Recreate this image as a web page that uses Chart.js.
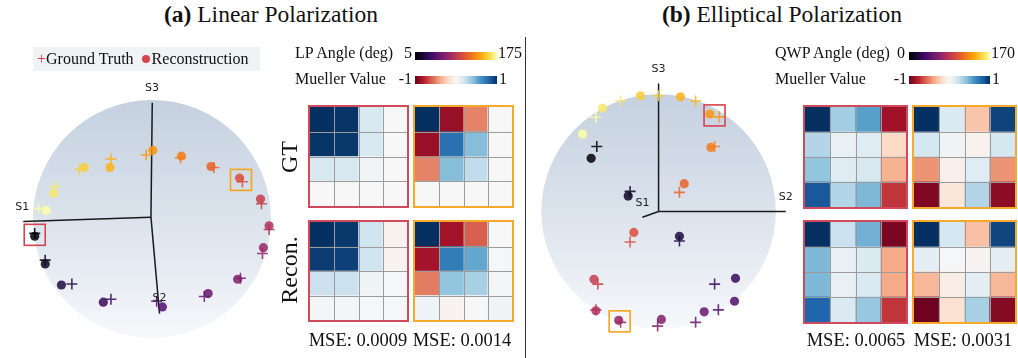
<!DOCTYPE html>
<html><head><meta charset="utf-8">
<script src="https://cdn.jsdelivr.net/npm/chart.js@4.4.1/dist/chart.umd.min.js"></script>
<style>
html,body{margin:0;padding:0;background:#fff;}
#root{position:relative;width:1018px;height:358px;overflow:hidden;font-family:"Liberation Serif","Times New Roman",serif;color:#111;}
canvas{position:absolute;}
.t{position:absolute;white-space:nowrap;line-height:1;}
.c{transform:translateX(-50%);}
.r{transform:translateX(-100%);}
.rot{transform:translate(-50%,-50%) rotate(-90deg);}
.cb{position:absolute;height:8px;}
.dot{display:inline-block;width:8px;height:8px;border-radius:50%;background:#d7434f;vertical-align:1px;margin-right:2px;}
</style></head>
<body><div id="root">
<div class="t c" style="left:271px;top:3px;font-size:23.5px"><b>(a)</b> Linear Polarization</div>
<div class="t c" style="left:782px;top:3px;font-size:23.5px"><b>(b)</b> Elliptical Polarization</div>
<div style="position:absolute;left:525px;top:37px;width:1px;height:321px;background:#333"></div>

<canvas id="sphA" width="300" height="318" style="left:0;top:40px"></canvas>
<canvas id="sphB" width="280" height="318" style="left:530px;top:40px"></canvas>

<div style="position:absolute;left:33px;top:47px;width:227px;height:24px;background:#f1f2f4"></div>
<div class="t" style="left:37px;top:51px;font-size:16px"><span style="color:#d7434f">+</span>Ground Truth&nbsp;&nbsp;<span class="dot"></span>Reconstruction</div>

<div class="t" style="left:295px;top:44.5px;font-size:16px">LP Angle (deg)</div>
<div class="t r" style="left:412px;top:44.5px;font-size:16px">5</div>
<div class="cb" id="cbLP" style="left:415px;top:51.5px;width:82px"></div>
<div class="t" style="left:498px;top:44.5px;font-size:16px">175</div>
<div class="t" style="left:295px;top:71px;font-size:16px">Mueller Value</div>
<div class="t r" style="left:412px;top:71px;font-size:16px">-1</div>
<div class="cb" id="cbM1" style="left:415px;top:76px;width:82px"></div>
<div class="t" style="left:499px;top:71px;font-size:16px">1</div>

<div class="t" style="left:775px;top:44.5px;font-size:16px">QWP Angle (deg)</div>
<div class="t r" style="left:905px;top:44.5px;font-size:16px">0</div>
<div class="cb" id="cbQ" style="left:909px;top:51.5px;width:81px"></div>
<div class="t" style="left:991px;top:44.5px;font-size:16px">170</div>
<div class="t" style="left:775px;top:71px;font-size:16px">Mueller Value</div>
<div class="t r" style="left:907px;top:71px;font-size:16px">-1</div>
<div class="cb" id="cbM2" style="left:909px;top:76px;width:81px"></div>
<div class="t" style="left:992px;top:71px;font-size:16px">1</div>

<div class="t rot" style="left:289px;top:157px;font-size:24px">GT</div>
<div class="t rot" style="left:289px;top:270px;font-size:24px">Recon.</div>

<canvas id="hA1" width="101" height="103" style="left:308px;top:105px"></canvas>
<canvas id="hA2" width="101" height="103" style="left:413px;top:105px"></canvas>
<canvas id="hA3" width="101" height="102" style="left:308px;top:220px"></canvas>
<canvas id="hA4" width="101" height="102" style="left:413px;top:220px"></canvas>
<canvas id="hB1" width="105" height="104" style="left:803px;top:105px"></canvas>
<canvas id="hB2" width="105" height="104" style="left:912px;top:105px"></canvas>
<canvas id="hB3" width="105" height="104" style="left:803px;top:220px"></canvas>
<canvas id="hB4" width="105" height="104" style="left:912px;top:220px"></canvas>

<div class="t c" style="left:358px;top:330.5px;font-size:18.5px">MSE: 0.0009</div>
<div class="t c" style="left:462px;top:330.5px;font-size:18.5px">MSE: 0.0014</div>
<div class="t c" style="left:856px;top:330.5px;font-size:18.5px">MSE: 0.0065</div>
<div class="t c" style="left:963px;top:330.5px;font-size:18.5px">MSE: 0.0031</div>
</div>
<script>
// ---------- DATA ----------
const lpAngles = [5,15,25,35,45,55,65,75,85,95,105,115,125,135,145,155,165,175];
const lpRecX = [-98.4,-89.6,-76,-40.8,8.8,47.2,72,93.6,98.4,91.2,73.6,49.6,24.8,0.8,-35.2,-56.8,-82.4,-88.8];
const lpRecY = [-14.4,-37.6,-55.2,-69.6,-73.6,-62.4,-50.4,-24,-5.6,16.8,34.4,44,52.8,57.6,43.2,43.2,21.6,7.2];
const lpGtX  = [-98.4,-89.6,-67.2,-34.4,4,44,74.4,92.8,98.4,92,76,52,24,-4.8,-34.4,-60.8,-81.6,-95.2];
const lpGtY  = [-12,-34.4,-54.4,-67.2,-68.8,-64.8,-49.6,-28.8,-8.8,12.8,31.2,43.2,51.2,53.6,50.4,41.6,27.2,8.8];

const qwpAngles = [0,10,20,30,40,50,60,70,80,90,100,110,120,130,140,150,160,170];
const qwpRecX = [-57.5,-25.9,17.8,65.6,64.8,38.9,2.4,-34,-53.5,-55.1,-21.1,21.9,44.6,43.7,18.6,-15.4,-47.8,-64.8];
const qwpRecY = [45,13,-21.1,-56.7,-76.1,-85.1,-91.5,-92.3,-84.2,-57.5,-17.8,23.5,54.3,82.6,97.2,98,87.5,65.6];
const qwpGtX  = [-52.7,-24.3,17.8,47.8,51,31.6,-0.8,-32.4,-53.5,-51.8,-24.3,17.8,47.8,51.8,31.6,0,-32.4,-53.5];
const qwpGtY  = [55.1,17,-25.1,-61.6,-83.4,-94,-97.2,-94,-83.4,-61.6,-25.9,16.2,55.1,80.2,93.6,98,93.6,79.8];

const colorbarLP = [5,175];
const colorbarQWP = [0,170];
const colorbarMueller = [-1,1];

// Mueller matrices (rows top to bottom)
const lpGtRed  = [[1,0.98,0.17,0],[0.98,0.97,0.17,0],[0.17,0.17,0.03,0],[0,0,0,0]];
const lpRecRed = [[1,0.97,0.2,-0.04],[0.96,0.94,0.2,-0.03],[0.22,0.22,0.05,0.01],[0.02,0.02,0.01,0.01]];
const lpGtOrg  = [[1,-0.87,-0.5,0],[-0.87,0.75,0.43,0],[-0.5,0.43,0.25,0],[0,0,0,0]];
const lpRecOrg = [[1,-0.84,-0.6,0],[-0.84,0.7,0.52,0.01],[-0.52,0.4,0.33,0.02],[0.05,-0.03,0,0.04]];
const qwpGtRed  = [[1,0.35,0.55,-0.85],[0.3,0.07,0.12,-0.2],[0.4,0.12,0.17,-0.35],[0.85,0.3,0.45,-0.72]];
const qwpRecRed = [[1,0.22,0.48,-0.95],[0.45,0.08,0.14,-0.38],[0.45,0.08,0.15,-0.38],[0.8,0.15,0.38,-0.72]];
const qwpGtOrg  = [[1,0.15,-0.28,0.93],[0.18,0.04,-0.04,0.18],[-0.45,-0.05,0.12,-0.45],[-0.93,-0.12,0.3,-0.9]];
const qwpRecOrg = [[1,0.18,-0.3,0.92],[0.1,0.01,-0.03,0.1],[-0.33,-0.07,0.1,-0.33],[-0.98,-0.15,0.33,-0.92]];

// ---------- COLORMAPS ----------
const INFERNO = ['#000004','#160b39','#420a68','#6a176e','#932667','#bc3754','#dd513a','#f37819','#fca50a','#f6d746','#fcffa4'];
const RDBU = ['#67001f','#b2182b','#d6604d','#f4a582','#fddbc7','#f7f7f7','#d1e5f0','#92c5de','#4393c3','#2166ac','#053061'];
function hex(h){return [parseInt(h.slice(1,3),16),parseInt(h.slice(3,5),16),parseInt(h.slice(5,7),16)];}
function interp(stops,t,a){
  t=Math.max(0,Math.min(1,t)); const n=stops.length-1; const i=Math.min(n-1,Math.floor(t*n)); const f=t*n-i;
  const c0=hex(stops[i]),c1=hex(stops[i+1]);
  const c=c0.map((v,k)=>Math.round(v+(c1[k]-v)*f));
  return a===undefined?`rgb(${c[0]},${c[1]},${c[2]})`:`rgba(${c[0]},${c[1]},${c[2]},${a})`;
}
const rdbu = v => interp(RDBU,(v+1)/2);
function grad(stops){return 'linear-gradient(to right,'+stops.join(',')+')';}
document.getElementById('cbLP').style.background=grad(INFERNO);
document.getElementById('cbQ').style.background=grad(INFERNO);
document.getElementById('cbM1').style.background=grad(RDBU);
document.getElementById('cbM2').style.background=grad(RDBU);

// ---------- SPHERE CHARTS ----------
const spherePlugin = {
  id:'sphere',
  beforeDatasetsDraw(chart,args,o){
    const {ctx,scales:{x,y}}=chart;
    const cx=x.getPixelForValue(0), cy=y.getPixelForValue(0), r=x.getPixelForValue(100)-cx;
    const g=ctx.createLinearGradient(0,cy-r,0,cy+r);
    g.addColorStop(0,'#c5d1e0'); g.addColorStop(0.5,'#dbe3ec'); g.addColorStop(1,'#f6f8fb');
    ctx.save(); ctx.beginPath(); ctx.arc(cx,cy,r,0,Math.PI*2); ctx.fillStyle=g; ctx.fill(); ctx.restore();
  },
  afterDatasetsDraw(chart,args,o){
    const {ctx,scales:{x,y}}=chart;
    ctx.save();
    ctx.font='11px "DejaVu Sans", sans-serif'; ctx.fillStyle='#222'; ctx.textAlign='center'; ctx.textBaseline='middle';
    (o.labels||[]).forEach(l=>ctx.fillText(l.text,x.getPixelForValue(l.x),y.getPixelForValue(l.y)));
    ctx.lineWidth=1.6;
    (o.boxes||[]).forEach(b=>{
      const px=x.getPixelForValue(b.x), py=y.getPixelForValue(b.y);
      ctx.strokeStyle=b.color; ctx.strokeRect(px-10.5,py-10.5,21,21);
    });
    ctx.restore();
  }
};
function sphere(id, angles, rx, ry, gx, gy, range, axes, labels, boxes){
  const t = a => (a-angles[0])/(angles[angles.length-1]-angles[0]);
  const cols = angles.map(a=>interp(INFERNO,t(a),0.85));
  const ds = axes.map(a=>({type:'scatter',showLine:true,data:[a[0],a[1]],borderColor:'#1a1a1a',borderWidth:1.5,pointRadius:0,order:3}));
  ds.push({data:rx.map((v,i)=>({x:v,y:ry[i]})),pointStyle:'circle',pointRadius:4.6,backgroundColor:cols,borderWidth:0,order:2});
  ds.push({data:gx.map((v,i)=>({x:v,y:gy[i]})),pointStyle:'cross',pointRadius:5.5,borderColor:cols,borderWidth:1.6,order:1});
  const bx = boxes.map(b=>({x:(rx[b.i]+gx[b.i])/2,y:(ry[b.i]+gy[b.i])/2,color:b.color}));
  new Chart(document.getElementById(id),{
    type:'scatter', data:{datasets:ds},
    options:{responsive:false,animation:false,events:[],layout:{padding:0},
      plugins:{legend:{display:false},tooltip:{enabled:false},sphere:{labels,boxes:bx}},
      scales:{x:{type:'linear',display:false,min:range[0],max:range[1]},y:{type:'linear',display:false,min:range[2],max:range[3]}}},
    plugins:[spherePlugin]
  });
}
sphere('sphA',lpAngles,lpRecX,lpRecY,lpGtX,lpGtY,[-121.6,118.4,-110.4,144],
  [[{x:-0.8,y:1.6},{x:-108,y:-2}],[{x:-0.8,y:1.6},{x:6.4,y:-79.2}],[{x:-0.8,y:1.6},{x:0.3,y:97.4}]],
  [{text:'S1',x:-108.8,y:10.4},{text:'S2',x:6.4,y:-66.4},{text:'S3',x:0,y:109.6}],
  [{i:0,color:'#d6434f'},{i:10,color:'#f5a31a'}]);
sphere('sphB',qwpAngles,qwpRecX,qwpRecY,qwpGtX,qwpGtY,[-103.6,123.1,-118.2,139.3],
  [[{x:0,y:0},{x:-13.8,y:-4.9}],[{x:0,y:0},{x:108.5,y:0}],[{x:0,y:0},{x:0,y:108.5}]],
  [{text:'S1',x:-13.8,y:7.3},{text:'S2',x:108.5,y:12.2},{text:'S3',x:0,y:120.7}],
  [{i:13,color:'#d6434f'},{i:7,color:'#f5a31a'}]);

// ---------- HEATMAPS ----------
const framePlugin = {
  id:'frame',
  afterDatasetsDraw(chart,args,o){
    const {ctx,chartArea:a,scales:{x,y}}=chart;
    ctx.save(); ctx.strokeStyle='#9c9c9c'; ctx.lineWidth=1; ctx.beginPath();
    const half=(x.getPixelForValue(1)-x.getPixelForValue(0))/2;
    for(let i=1;i<4;i++){const px=Math.round(x.getPixelForValue(i)-half)+0.5; ctx.moveTo(px,a.top); ctx.lineTo(px,a.bottom);}
    for(let k=1;k<4;k++){const py=Math.round(y.getPixelForValue(k))+0.5; ctx.moveTo(a.left,py); ctx.lineTo(a.right,py);}
    ctx.stroke();
    ctx.strokeStyle=o.color; ctx.lineWidth=2;
    ctx.strokeRect(a.left-1,a.top-1,a.right-a.left+2,a.bottom-a.top+2); ctx.restore();
  }
};
function heatmap(id,M,color){
  const rows=[3,2,1,0];
  new Chart(document.getElementById(id),{
    type:'bar',
    data:{labels:['1','2','3','4'],datasets:rows.map(r=>({data:[1,1,1,1],backgroundColor:M[r].map(rdbu),borderWidth:0,barPercentage:1,categoryPercentage:1}))},
    options:{responsive:false,animation:false,events:[],layout:{padding:2},
      plugins:{legend:{display:false},tooltip:{enabled:false},frame:{color}},
      scales:{
        x:{stacked:true,offset:true,grid:{display:false,drawTicks:false},border:{display:false},ticks:{display:false}},
        y:{stacked:true,min:0,max:4,grid:{display:false,drawTicks:false},border:{display:false},ticks:{display:false,stepSize:1}}
      }},
    plugins:[framePlugin]
  });
}
heatmap('hA1',lpGtRed,'#d04a5b');
heatmap('hA2',lpGtOrg,'#f6a92a');
heatmap('hA3',lpRecRed,'#d04a5b');
heatmap('hA4',lpRecOrg,'#f6a92a');
heatmap('hB1',qwpGtRed,'#d04a5b');
heatmap('hB2',qwpGtOrg,'#f6a92a');
heatmap('hB3',qwpRecRed,'#d04a5b');
heatmap('hB4',qwpRecOrg,'#f6a92a');
</script>
</body></html>
